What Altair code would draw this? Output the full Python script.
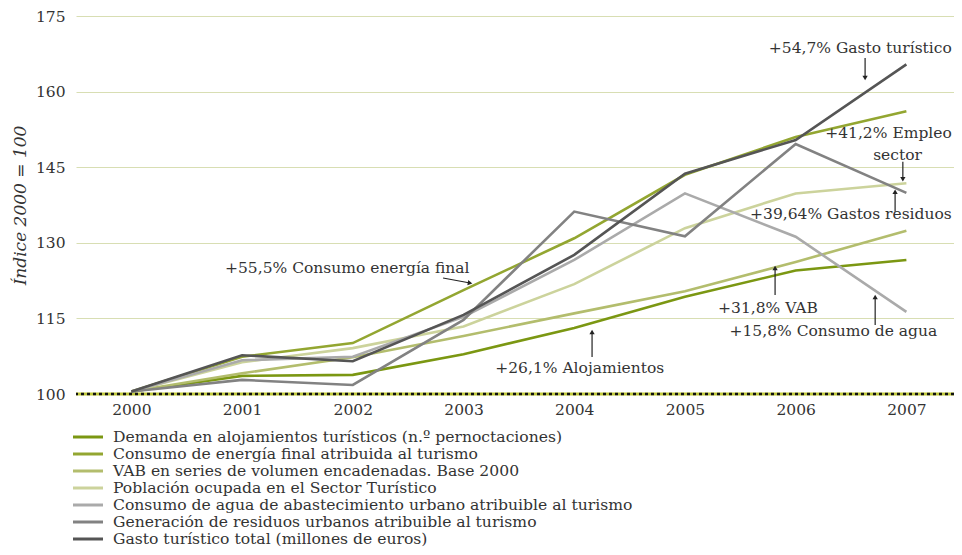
import altair as alt
import pandas as pd

years = [2000, 2001, 2002, 2003, 2004, 2005, 2006, 2007]

series_names = [
    "Demanda en alojamientos turísticos (n.º pernoctaciones)",
    "Consumo de energía final atribuida al turismo",
    "VAB en series de volumen encadenadas. Base 2000",
    "Población ocupada en el Sector Turístico",
    "Consumo de agua de abastecimiento urbano atribuible al turismo",
    "Generación de residuos urbanos atribuible al turismo",
    "Gasto turístico total (millones de euros)",
]
series_colors = ["#7b9712", "#93a631", "#b3bd6d", "#ccd39c", "#aaaaaa", "#828282", "#555555"]

alojamientos = [100.5, 103.6, 103.8, 107.9, 113.1, 119.3, 124.5, 126.6]
energia = [100.5, 107.4, 110.1, 120.6, 130.9, 143.5, 151.0, 156.1]
vab = [100.5, 104.1, 107.3, 111.5, 116.0, 120.4, 126.2, 132.4]
poblacion = [100.5, 106.3, 109.1, 113.4, 121.8, 132.9, 139.8, 141.8]
agua = [100.5, 106.7, 107.4, 115.3, 126.6, 139.8, 131.2, 116.3]
residuos = [100.5, 102.8, 101.8, 114.7, 136.2, 131.3, 149.6, 139.9]
gasto = [100.5, 107.7, 106.5, 115.7, 127.6, 143.7, 150.4, 165.4]

y_ticks = [100, 115, 130, 145, 160, 175]

# annotations: text, x (year), y (index), align
ann_text = ["+54,7% Gasto turístico", "+41,2% Empleo", "sector", "+39,64% Gastos residuos",
            "+55,5% Consumo energía final", "+26,1% Alojamientos", "+31,8% VAB",
            "+15,8% Consumo de agua"]
ann_x = [2007.41, 2007.41, 2006.92, 2007.41, 2001.95, 2004.05, 2005.75, 2006.34]
ann_y = [168.65, 151.8, 147.4, 135.7, 125.0, 105.2, 117.1, 112.5]
ann_align = ["right", "right", "center", "right", "center", "center", "center", "center"]

# arrows: tail (x, y) -> head (x2, y2), head angle
arr_x = [2006.627, 2006.968, 2006.898, 2002.815, 2004.161, 2005.814, 2006.718]
arr_y = [166.67, 146.09, 136.17, 123.02, 107.34, 119.64, 113.69]
arr_x2 = [2006.627, 2006.968, 2006.898, 2003.059, 2004.161, 2005.814, 2006.718]
arr_y2 = [162.70, 142.60, 140.14, 122.02, 112.30, 125.0, 119.25]
arr_angle = [180, 180, 0, 100, 0, 0, 0]

all_vals = [alojamientos, energia, vab, poblacion, agua, residuos, gasto]
rows = []
for i, (name, vals) in enumerate(zip(series_names, all_vals)):
    for yr, v in zip(years, vals):
        rows.append({"serie": name, "year": yr, "value": v, "order": i})
df = pd.DataFrame(rows)

ann_df = pd.DataFrame({"t": ann_text, "x": ann_x, "y": ann_y, "align": ann_align})
arr_df = pd.DataFrame({"x": arr_x, "y": arr_y, "x2": arr_x2, "y2": arr_y2, "angle": arr_angle})

FONT = "DejaVu Serif"
xscale = alt.Scale(domain=[1999.5, 2007.43], nice=False, zero=False)
yscale = alt.Scale(domain=[100, 175], nice=False, zero=False)

base_x = alt.X("year:Q", scale=xscale,
               axis=alt.Axis(values=years, format="d", title=None, grid=False, domain=False,
                             ticks=False, labelPadding=8, labelFontSize=15.5, labelFont=FONT,
                             labelColor="#333333"))
base_y = alt.Y("value:Q", scale=yscale,
               axis=alt.Axis(values=y_ticks, title="Índice 2000 = 100", titleFont=FONT,
                             titleFontStyle="italic", titleFontWeight="normal", titleFontSize=17,
                             titleColor="#333333", titlePadding=6,
                             grid=True, gridColor="#d8deb3", gridWidth=1, domain=False, ticks=False,
                             labelPadding=11, labelFontSize=15.5, labelFont=FONT, labelColor="#333333"))

lines = alt.Chart(df).mark_line(strokeWidth=2.6).encode(
    x=base_x,
    y=base_y,
    color=alt.Color("serie:N", sort=series_names,
                    scale=alt.Scale(domain=series_names, range=series_colors),
                    legend=alt.Legend(title=None, orient="none", legendX=4, legendY=413,
                                      direction="vertical", symbolType="M-2.45,0L2.45,0",
                                      symbolSize=150, symbolStrokeWidth=3, labelFont=FONT,
                                      labelFontSize=15.6, labelColor="#333333", labelLimit=0,
                                      rowPadding=0, padding=0, labelOffset=17)),
    order=alt.Order("order:Q"),
)

baseline_df = pd.DataFrame({"y": [100]})
base1 = alt.Chart(baseline_df).mark_rule(color="#bfc83a", strokeWidth=3).encode(y=alt.Y("y:Q", scale=yscale))
base2 = alt.Chart(baseline_df).mark_rule(color="#111111", strokeWidth=2.5, strokeDash=[3, 3]).encode(
    y=alt.Y("y:Q", scale=yscale))

texts_r = alt.Chart(ann_df[ann_df["align"] == "right"]).mark_text(
    font=FONT, fontSize=15.5, color="#333333", baseline="middle", align="right").encode(
    x=alt.X("x:Q", scale=xscale), y=alt.Y("y:Q", scale=yscale), text="t:N")
texts_c = alt.Chart(ann_df[ann_df["align"] == "center"]).mark_text(
    font=FONT, fontSize=15.5, color="#333333", baseline="middle", align="center").encode(
    x=alt.X("x:Q", scale=xscale), y=alt.Y("y:Q", scale=yscale), text="t:N")

arrows = alt.Chart(arr_df).mark_rule(color="#222222", strokeWidth=1.2).encode(
    x=alt.X("x:Q", scale=xscale), y=alt.Y("y:Q", scale=yscale),
    x2="x2:Q", y2="y2:Q")
heads = alt.Chart(arr_df).mark_point(shape="triangle-up", filled=True, color="#222222", size=28,
                                     opacity=1).encode(
    x=alt.X("x2:Q", scale=xscale), y=alt.Y("y2:Q", scale=yscale),
    angle=alt.Angle("angle:Q", scale=None))

chart = alt.layer(base1, lines, base2, arrows, heads, texts_r, texts_c).properties(
    width=878, height=378,
    autosize=alt.AutoSizeParams(type="none"),
    padding={"left": 68, "top": 8, "right": 0, "bottom": 153},
).configure_view(stroke=None)

chart.save("out.html", embed_options={"renderer": "svg", "actions": False})
